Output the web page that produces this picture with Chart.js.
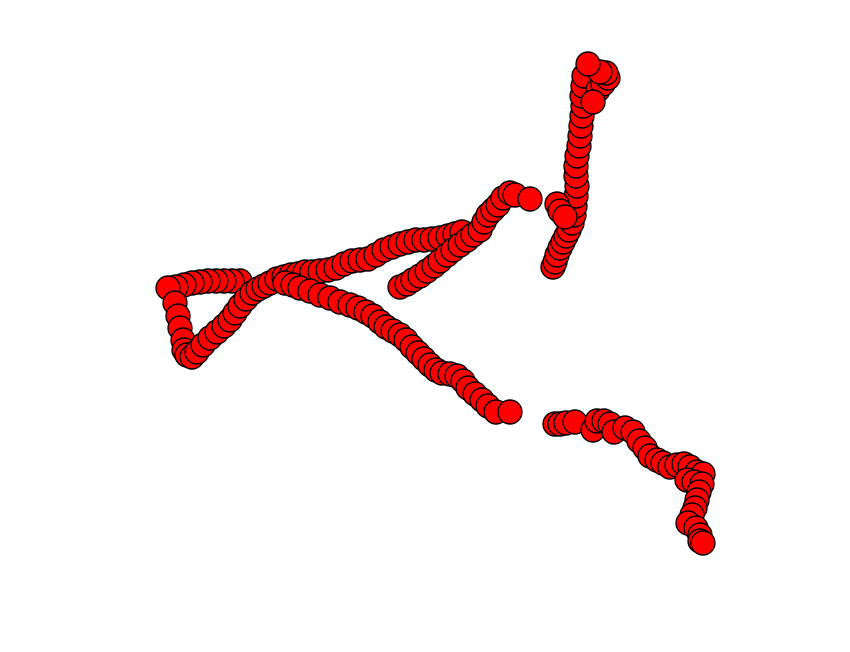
<!DOCTYPE html>
<html>
<head>
<meta charset="utf-8">
<script src="https://cdn.jsdelivr.net/npm/chart.js@4/dist/chart.umd.min.js"></script>
<style>
html,body{margin:0;padding:0;background:#fff;}
#wrap{width:850px;height:652px;position:relative;}
</style>
</head>
<body>
<div id="wrap"><canvas id="c"></canvas></div>
<script>
// Segment: loop top row (left part of upper band)
const rowX = [240,232,224,216,208,200,192,184,176,168];
const rowY = [281,281,281,281,281,282,283,285,287,288];
// Segment: loop left side and rising upper band
const loopX = [175,178,180,183,184,187,192,197,203,210,217,224,230,235,240,246,252,258,264,270,277,284,291,298,305,312,320,328,336,344,352,360,368,376,384,392,400,408,416,424,432,440,448,455,462];
const loopY = [303,316,328,340,350,355,357,352,345,338,332,326,320,313,306,299,293,289,286,283,279,277,275,274,272,272,271,270,268,264,261,260,259,255,250,247,244,242,240,240,239,238,236,234,232];
// Segment: descending band
const downX = [285,293,300,310,320,330,340,350,358,366,373,380,386,393,400,406,412,418,424,430,436,442,450,457,463,468,475,482,488,496,510];
const downY = [283,285,288,291,295,298,302,305,308,312,316,322,327,331,335,340,347,353,359,365,370,373,374,376,381,388,394,400,406,412,412];
// Segment: second ascending band
const riseX = [400,407,413,420,427,434,440,447,453,460,467,473,480,484,488,493,498,503,510,515,530];
const riseY = [287,284,280,276,271,266,261,255,250,245,240,235,230,222,215,210,205,198,193,195,199];
// Segment: upper-right column
const colX = [553,555,557,560,563,566,569,572,574,575,576,577,576,576,577,579,580,581,582,583,582,583,584,598,603,608,606,600,588,593,557,560,565];
const colY = [267,262,255,248,242,236,230,223,215,206,196,186,176,166,156,146,136,126,116,106,96,86,76,90,84,78,73,72,64,102,204,211,217];
// Segment: lower-right curve
const tailX = [555,560,566,575,593,597,604,610,614,625,633,639,645,650,657,663,670,677,684,690,697,703,687,694,702,699,697,695,692,688,696,700,700,703];
const tailY = [424,424,423,422,430,421,421,424,432,428,432,441,448,456,460,463,467,465,464,467,472,474,480,482,484,492,500,508,515,523,528,535,541,543];

const segsX = [rowX, loopX, downX, riseX, colX, tailX];
const segsY = [rowY, loopY, downY, riseY, colY, tailY];
const pts = [];
segsX.forEach((xs, s) => xs.forEach((x, i) => pts.push({x: x, y: segsY[s][i]})));

new Chart(document.getElementById('c'), {
  type: 'scatter',
  data: { datasets: [{
    data: pts,
    backgroundColor: '#ff0000',
    borderColor: '#000000',
    borderWidth: 1.3,
    pointRadius: 12,
    pointHoverRadius: 12,
    clip: false
  }]},
  options: {
    responsive: true,
    maintainAspectRatio: false,
    animation: false,
    layout: { padding: 0, autoPadding: false },
    plugins: { legend: { display: false }, tooltip: { enabled: false } },
    scales: {
      x: { type: 'linear', min: 0, max: 850, display: false },
      y: { type: 'linear', min: 0, max: 652, reverse: true, display: false }
    }
  }
});
</script>
</body>
</html>
